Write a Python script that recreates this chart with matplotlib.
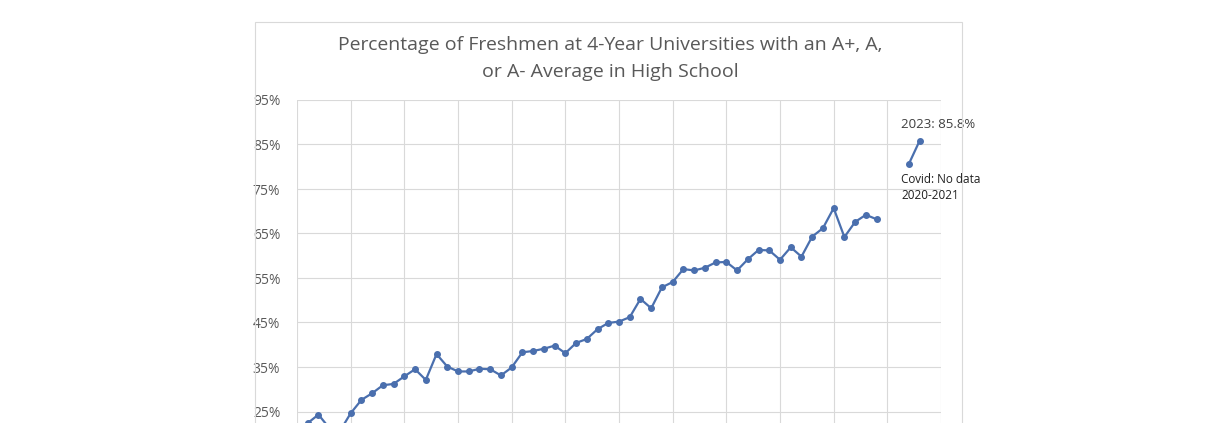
import matplotlib
matplotlib.use("Agg")
import matplotlib.pyplot as plt
from matplotlib.patches import Rectangle
import numpy as np

years_a = list(range(1966, 2020))
values_a = [22.4, 24.3, 21.3, 20.6, 24.6, 27.6, 29.1, 30.9, 31.2, 32.9, 34.5, 32.1, 37.9, 35.1,
            34.0, 34.0, 34.6, 34.5, 33.1, 34.9, 38.3, 38.6, 39.1, 39.8, 38.1, 40.4, 41.3, 43.5,
            44.9, 45.2, 46.2, 50.3, 48.2, 52.9, 54.1, 57.0, 56.7, 57.3, 58.5, 58.6, 56.7, 59.2,
            61.3, 61.2, 59.1, 61.9, 59.8, 64.3, 66.2, 70.7, 64.2, 67.6, 69.2, 68.2]
years_b = [2022, 2023]
values_b = [80.6, 85.8]
yticks = [25, 35, 45, 55, 65, 75, 85, 95]
xgrid = list(range(1965, 2030, 5))

W, H = 1210, 423
fig = plt.figure(figsize=(W/100, H/100), dpi=100)
fig.patches.append(Rectangle((255/W, -0.2), (962-255)/W, 1.2 - 22/H, transform=fig.transFigure,
                             fill=False, edgecolor="#d9d9d9", linewidth=0.8))
top = 1 - 100/H
bot = 1 - 456/H
ax = fig.add_axes([297/W, bot, (941-297)/W, top-bot])
ax.set_xlim(1965, 2025)
ax.set_ylim(15, 95)
ax.set_yticks(yticks)
ax.set_yticklabels([f"{v}%" for v in yticks], fontsize=10, color="#595959", family="Carlito" if False else "Open Sans")
ax.set_xticks(xgrid)
ax.set_xticklabels([])
ax.tick_params(length=0, pad=12)
ax.grid(True, color="#d9d9d9", linewidth=0.8)
for s in ax.spines.values():
    s.set_visible(False)
col = "#4a6fae"
ax.plot(years_a, values_a, color=col, lw=1.6, marker="o", ms=4)
ax.plot(years_b, values_b, color=col, lw=1.6, marker="o", ms=4)
ax.text(2021.3, 89.5, "2023: 85.8%", fontsize=9.5, color="#404040", family="Open Sans", va="center")
ax.text(2021.3, 78.7, "Covid: No data\n2020-2021", fontsize=8.5, color="#202020", family="Open Sans",
        va="top", linespacing=1.3)
fig.text(610/W, 1-45/H, "Percentage of Freshmen at 4-Year Universities with an A+, A,",
         ha="center", va="center", fontsize=14, color="#595959", family="Open Sans")
fig.text(610/W, 1-72/H, "or A- Average in High School",
         ha="center", va="center", fontsize=14, color="#595959", family="Open Sans")
fig.savefig("out.png", dpi=100)
